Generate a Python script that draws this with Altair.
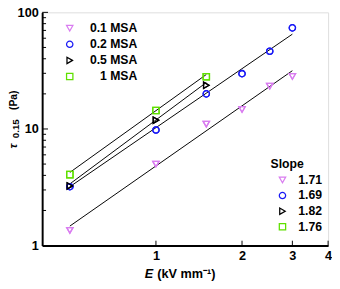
import altair as alt
import pandas as pd

# ---- data ----
series = ["0.1 MSA", "0.2 MSA", "0.5 MSA", "1 MSA"]
slopes = ["1.71", "1.69", "1.82", "1.76"]
colors = ["#D97CF0", "#1A1AF5", "#000000", "#5FE000"]
shapes = ["triangle-down", "circle", "triangle-right", "square"]

E_01 = [0.5, 1, 1.5, 2, 2.5, 3]
tau_01 = [1.35, 5.0, 11.0, 14.7, 23.3, 28.2]
E_02 = [0.5, 1, 1.5, 2, 2.5, 3]
tau_02 = [3.2, 9.8, 20.0, 29.8, 46.4, 73.6]
E_05 = [0.5, 1, 1.5]
tau_05 = [3.25, 11.9, 23.7]
E_1 = [0.5, 1, 1.5]
tau_1 = [4.06, 14.4, 28.0]

fit_E0 = [0.5, 0.5, 0.5, 0.5]
fit_E1 = [3, 3, 1.5, 1.5]
fit_t0 = [1.47, 3.2, 3.38, 4.24]
fit_t1 = [31.6, 65.0, 25.0, 29.3]

x_tick_vals = [1, 2, 3, 4]
y_major = [1, 10, 100]
y_minor = [2, 3, 4, 5, 6, 7, 8, 9, 20, 30, 40, 50, 60, 70, 80, 90]

# ---- tables ----
rows = []
for s, sl, E, T in zip(series, slopes, [E_01, E_02, E_05, E_1], [tau_01, tau_02, tau_05, tau_1]):
    for e, t in zip(E, T):
        rows.append({"series": s, "slope": sl, "E": e, "tau": t})
df = pd.DataFrame(rows)
fits = pd.DataFrame({"E": fit_E0, "E1": fit_E1, "tau": fit_t0, "tau1": fit_t1})
one = pd.DataFrame({"k": [0]})

W, H = 293, 239
FONT = "Liberation Sans"
FS = 12.5
TFS = 13

xs = alt.Scale(type="log", domain=[0.4, 4])
ys = alt.Scale(type="log", domain=[1, 100])

xaxis = alt.Axis(title=None, values=x_tick_vals, format="d", ticks=False, tickSize=0,
                 grid=False, domainColor="black", domainWidth=2, labelFont=FONT, labelFontSize=TFS,
                 labelFontWeight="bold", labelColor="black", labelPadding=4, labelFlush=False,
                 labelOverlap=False)
yaxis = alt.Axis(title=None, values=y_major, format="d", ticks=False, tickSize=0,
                 grid=False, domainColor="black", domainWidth=2, labelFont=FONT, labelFontSize=TFS,
                 labelFontWeight="bold", labelColor="black", labelPadding=4, labelFlush=False,
                 labelOverlap=False)

X = alt.X("E:Q", scale=xs, axis=xaxis)
Y = alt.Y("tau:Q", scale=ys, axis=yaxis)

lines = alt.Chart(fits).mark_rule(color="black", strokeWidth=1).encode(
    x=X, x2="E1:Q", y=Y, y2="tau1:Q")

leg1 = alt.Legend(title=None, orient="none", legendX=22, legendY=10, padding=0, rowPadding=3.5,
                  labelFont=FONT, labelFontSize=FS, labelFontWeight="bold", labelColor="black",
                  labelAlign="right", labelOffset=63,
                  symbolSize=42, symbolStrokeWidth=1.3)
pts1 = alt.Chart(df).mark_point(filled=False, size=42, strokeWidth=1.3, opacity=1).encode(
    x=X, y=Y,
    color=alt.Color("series:N", scale=alt.Scale(domain=series, range=colors), legend=leg1),
    shape=alt.Shape("series:N", scale=alt.Scale(domain=series, range=shapes), legend=leg1))

leg2 = alt.Legend(title="Slope", orient="none", legendX=234, legendY=149, padding=0, rowPadding=3,
                  titleFont=FONT, titleFontSize=FS, titleFontWeight="bold", titleColor="black",
                  titlePadding=4, labelFont=FONT, labelFontSize=FS, labelFontWeight="bold",
                  labelColor="black", symbolSize=42, symbolStrokeWidth=1.3, symbolOffset=6,
                  labelOffset=10)
pts2 = alt.Chart(df).mark_point(filled=False, size=42, strokeWidth=1.3, opacity=1).encode(
    x=X, y=Y,
    color=alt.Color("slope:N", scale=alt.Scale(domain=slopes, range=colors), legend=leg2),
    shape=alt.Shape("slope:N", scale=alt.Scale(domain=slopes, range=shapes), legend=leg2))

ymaj = alt.Chart(pd.DataFrame({"tau": y_major})).mark_rule(color="black", strokeWidth=1).encode(
    y=Y, x=alt.value(0), x2=alt.value(6))
ymin = alt.Chart(pd.DataFrame({"tau": y_minor})).mark_rule(color="black", strokeWidth=1).encode(
    y=Y, x=alt.value(0), x2=alt.value(4))
xtk = alt.Chart(pd.DataFrame({"E": x_tick_vals})).mark_rule(color="black", strokeWidth=1).encode(
    x=X, y=alt.value(H), y2=alt.value(H - 5))

# axis titles (mixed styles, so drawn as text pieces)
def txt(s, x, y, size, style="normal", weight="bold", angle=0, align="left", baseline="alphabetic"):
    return alt.Chart(one).mark_text(font=FONT, fontSize=size, fontStyle=style, fontWeight=weight,
                                    angle=angle, align=align, baseline=baseline, color="black").encode(
        x=alt.value(x), y=alt.value(y), text=alt.value(s))

ytitle = [
    txt("τ", -26, 137, 12, style="italic", angle=270, align="center"),
    txt("0.15", -23.5, 129, 10, angle=270),
    txt("(Pa)", -26, 100, 10.5, angle=270),
]
xtitle = [
    txt("E", 105, 272, TFS, style="italic"),
    txt("(kV mm⁻¹)", 118, 272, TFS),
]

chart = alt.layer(lines, ymaj, ymin, xtk, pts1, pts2, *ytitle, *xtitle).resolve_scale(
    color="independent", shape="independent"
).properties(
    width=W, height=H, autosize="none",
    padding={"left": 35, "top": 1, "right": 4, "bottom": 40}
).configure_view(stroke="black", strokeWidth=1.2).configure(font=FONT)

chart.save("out.html", embed_options={"renderer": "svg", "actions": False})
